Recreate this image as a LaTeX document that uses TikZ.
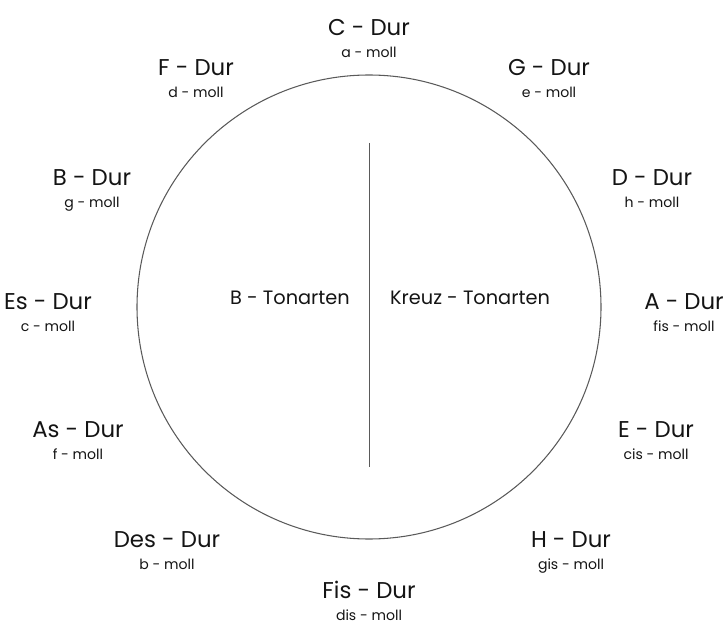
\documentclass[tikz,border=0pt]{standalone}
\usepackage{fontspec}
\setmainfont{Poppins}
\usepackage{tikz}
\usetikzlibrary{positioning}
\definecolor{ringgray}{RGB}{90,90,90}
\definecolor{keytext}{RGB}{20,20,20}

\begin{document}
\begin{tikzpicture}[
 x=0.03cm,y=-0.03cm,
 dur/.style={font=\fontsize{19.5}{22}\selectfont,text=keytext,inner sep=0pt},
 moll/.style={font=\fontsize{12}{14}\selectfont,text=keytext,inner sep=0pt},
 side/.style={font=\fontsize{16.5}{18}\selectfont,text=keytext,inner sep=0pt},
 ring/.style={draw=ringgray,line width=0.9pt}
]
\clip (0,0) rectangle (727,624);
\useasboundingbox (0,0) rectangle (727,624);
\node[circle,ring,minimum size=232*0.06cm,inner sep=0pt] (kreis) at (369,307) {};
\coordinate (top) at (369,143);
\coordinate (bot) at (369,467);
\draw[ringgray,line width=0.7pt] (top) -- (bot);
\node[side] (btonart) at (290,298) {B - Tonarten};
\node[side] (ktonart) at (470,298) {Kreuz - Tonarten};
\foreach \i/\x/\y/\dur/\moll in {
  1/369/28/C/a, 2/549/68/G/e, 3/652/178/D/h, 4/684/302/A/fis,
  5/656/430/E/cis, 6/571/540/H/gis, 7/369/590/Fis/dis, 8/167/540/Des/b,
  9/78/430/As/f, 10/48/302/Es/c, 11/92/178/B/g, 12/196/68/F/d}{
  \node[dur] (dur\i) at (\x,\y) {\dur{} - Dur};
  \node[moll,below=9pt of dur\i] (moll\i) {\moll{} - moll};
}
\end{tikzpicture}
\end{document}
